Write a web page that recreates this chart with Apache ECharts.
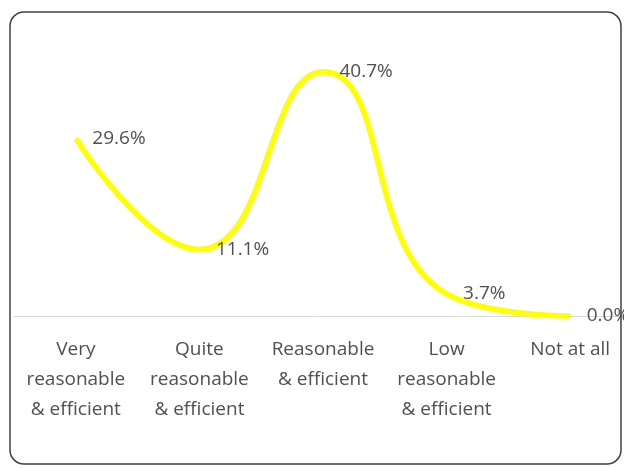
<!DOCTYPE html>
<html>
<head>
<meta charset="utf-8">
<style>
  html, body { margin: 0; padding: 0; background: #fff; }
  #chart { width: 624px; height: 468px; }
</style>
<script src="https://cdn.jsdelivr.net/npm/echarts@6/dist/echarts.min.js"></script>
</head>
<body>
<div id="chart"></div>
<script>
// Survey answers and their shares (%)
const categories = [
  'Very\nreasonable\n& efficient',
  'Quite\nreasonable\n& efficient',
  'Reasonable\n& efficient',
  'Low\nreasonable\n& efficient',
  'Not at all'
];
const shares = [29.6, 11.1, 40.7, 3.7, 0.0];

const chart = echarts.init(document.getElementById('chart'), null, { renderer: 'canvas' });
const textColor = '#505050';
const font = 'Open Sans';

chart.setOption({
  animation: false,
  backgroundColor: '#ffffff',
  grid: { left: 14, width: 618, top: 16, height: 300, outerBoundsMode: 'none', containLabel: false },
  xAxis: {
    type: 'category',
    data: categories,
    boundaryGap: true,
    axisLine: { show: true, lineStyle: { color: '#d9d9d9', width: 1 } },
    axisTick: { show: false },
    axisLabel: {
      interval: 0,
      margin: 19,
      color: textColor,
      fontFamily: font,
      fontSize: 19,
      lineHeight: 30,
      align: 'center'
    }
  },
  yAxis: {
    type: 'value',
    min: 0,
    max: 50,
    show: false,
    splitLine: { show: false }
  },
  series: [{
    type: 'line',
    data: shares,
    smooth: 0.5,
    symbol: 'circle',
    symbolSize: 1,
    showSymbol: true,
    itemStyle: { color: 'rgba(255,255,0,0)' },
    lineStyle: { color: '#ffff00', width: 5.5 },
    label: {
      show: true,
      position: 'right',
      distance: 16,
      offset: [0, 5],
      color: textColor,
      fontFamily: font,
      fontSize: 19,
      formatter: p => p.value.toFixed(1) + '%'
    },
    labelLayout: { hideOverlap: false },
    z: 3
  }],
  graphic: [{
    type: 'rect',
    shape: { x: 10, y: 12, width: 611, height: 452, r: 14 },
    style: { fill: 'none', stroke: '#404040', lineWidth: 1.5 },
    silent: true,
    z: 10
  }]
});
</script>
</body>
</html>
